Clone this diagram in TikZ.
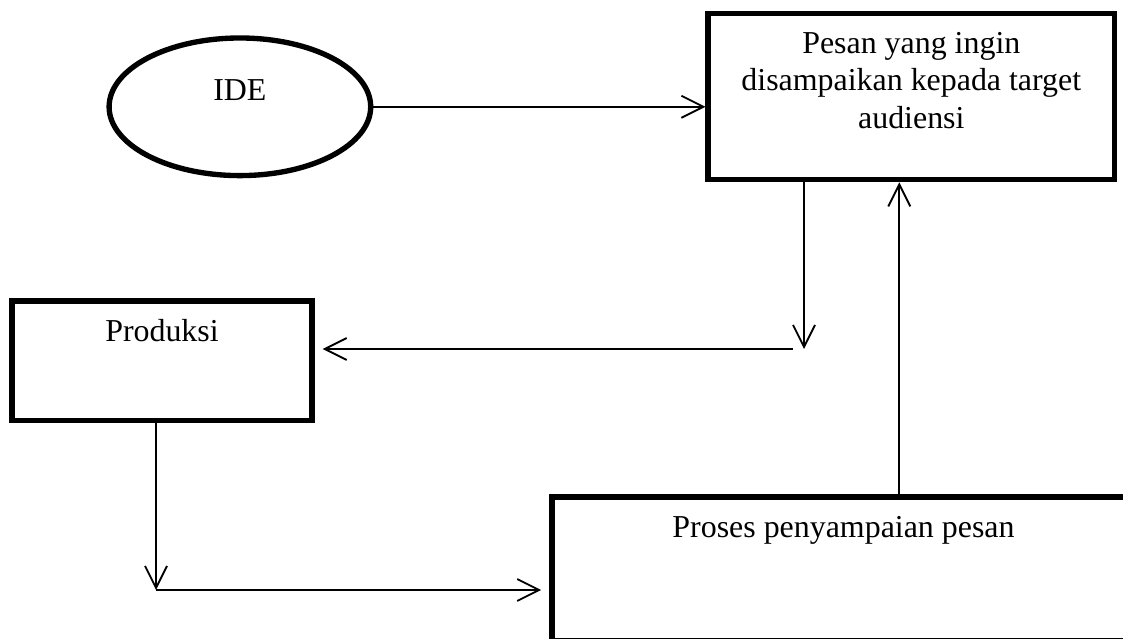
\documentclass[tikz,border=0pt]{standalone}
\usepackage{fontspec}
\setmainfont{Liberation Serif}
\usetikzlibrary{arrows.meta,shapes.geometric}

\begin{document}
\begin{tikzpicture}[
  x=0.25mm, y=-0.25mm,
  font=\fontsize{22.7}{26.5}\selectfont,
  >={Straight Barb[length=5.5mm, width=5.5mm]},
  heavy/.style={draw=black, line width=3.8pt, inner sep=0pt},
  box/.style={heavy, rectangle},
  oval/.style={heavy, ellipse},
  caption/.style={anchor=north, align=center, inner sep=0pt},
  arr/.style={->, line width=1.3pt, draw=black},
]
\useasboundingbox (0,0) rectangle (1123,639);
\node[oval, minimum width=65.4mm, minimum height=34.4mm,
  label={[yshift=4.1mm]center:IDE}] (ide) at (239.9,106.8) {};
\node[box, minimum width=101.6mm, minimum height=41.5mm,
  label={[caption, yshift=-5.3mm]north:{Pesan yang ingin\\disampaikan kepada target\\audiensi}}] (pesan) at (911.3,96.7) {};
\node[box, minimum width=75mm, minimum height=29.9mm,
  label={[caption, yshift=-5.1mm]north:Produksi}] (produksi) at (162,360.8) {};
\node[box, minimum width=145.8mm, minimum height=36mm,
  label={[caption, yshift=-5.4mm]north:Proses penyampaian pesan}] (proses) at (843.5,569) {};
\coordinate (bendA) at (804,349);
\coordinate (bendB) at (793,349);
\coordinate (bendC) at (156,590);
\draw[arr] (ide.east) -- (ide.east -| pesan.west);
\draw[arr] (pesan.south -| bendA) -- (bendA);
\draw[arr, shorten >=2mm] (bendB) -- (bendB -| produksi.east);
\draw[arr] (produksi.south -| bendC) -- (bendC);
\draw[arr, shorten >=2mm] (bendC) -- (bendC -| proses.west);
\draw[arr] ([xshift=-3mm]pesan.south |- proses.north) -- ([xshift=-3mm]pesan.south);
\end{tikzpicture}
\end{document}
